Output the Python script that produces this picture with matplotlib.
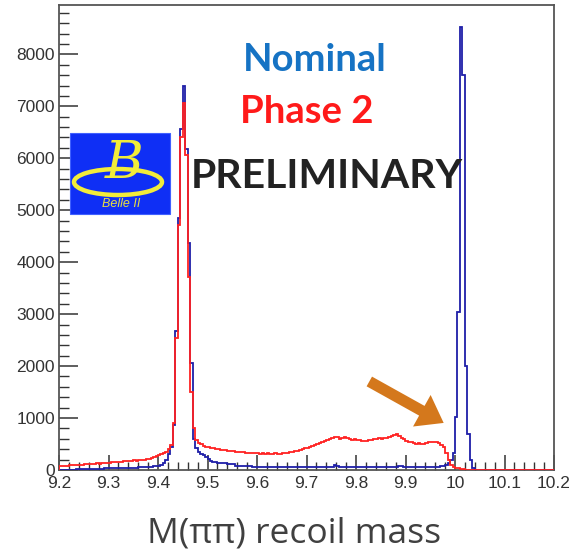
import matplotlib
matplotlib.use("Agg")
import matplotlib.pyplot as plt
from matplotlib.patches import Rectangle, Ellipse
import numpy as np

# histogram range, 200 bins of 5 MeV
mass_lo = 9.2
mass_hi = 10.2

# Nominal (blue), counts per bin, 10 bins per row
nominal_counts = [
    5, 5, 5, 5, 5, 5, 5, 25, 20, 20,
    20, 20, 25, 25, 20, 25, 25, 25, 30, 30,
    30, 35, 30, 35, 35, 40, 40, 35, 40, 40,
    45, 45, 50, 50, 55, 60, 60, 65, 70, 75,
    80, 100, 140, 200, 300, 450, 860, 2670, 4850, 6570,
    7400, 6170, 4370, 2060, 600, 420, 350, 300, 290, 250,
    220, 170, 160, 160, 140, 130, 130, 130, 125, 125,
    120, 80, 75, 75, 70, 70, 70, 70, 65, 65,
    65, 65, 65, 60, 65, 60, 60, 65, 60, 60,
    60, 60, 60, 55, 60, 60, 55, 60, 60, 60,
    60, 55, 60, 60, 60, 60, 55, 60, 60, 60,
    60, 90, 80, 60, 60, 60, 55, 60, 60, 60,
    60, 60, 55, 60, 60, 65, 60, 60, 60, 60,
    60, 60, 60, 60, 65, 60, 60, 85, 70, 60,
    60, 60, 60, 60, 60, 60, 60, 60, 60, 60,
    60, 60, 65, 60, 70, 80, 100, 130, 200, 320,
    1025, 3050, 8530, 7600, 2000, 700, 190, 30, 0, 0,
    0, 0, 0, 0, 0, 0, 0, 0, 0, 0,
    0, 0, 0, 0, 0, 0, 0, 0, 0, 0,
    0, 0, 0, 0, 0, 0, 0, 0, 0, 0,
]

# Phase 2 (red)
phase2_counts = [
    70, 75, 75, 80, 90, 95, 100, 100, 105, 100,
    110, 120, 120, 125, 125, 130, 125, 135, 130, 140,
    140, 150, 145, 160, 160, 155, 165, 170, 175, 180,
    185, 180, 190, 200, 200, 210, 220, 240, 250, 260,
    290, 310, 330, 350, 400, 480, 900, 2540, 4710, 6410,
    7070, 6060, 3720, 1500, 800, 580, 520, 500, 470, 450,
    440, 430, 420, 410, 400, 390, 380, 380, 370, 360,
    360, 350, 345, 340, 340, 330, 335, 325, 330, 320,
    320, 315, 320, 310, 320, 315, 310, 320, 310, 315,
    320, 330, 325, 340, 350, 360, 370, 380, 400, 420,
    430, 450, 470, 480, 500, 520, 540, 560, 580, 600,
    620, 640, 630, 600, 620, 640, 620, 600, 580, 590,
    570, 580, 560, 550, 560, 570, 580, 590, 600, 610,
    600, 610, 620, 640, 660, 680, 700, 660, 620, 590,
    550, 540, 530, 520, 510, 520, 510, 500, 520, 530,
    540, 530, 540, 520, 480, 440, 330, 200, 90, 60,
    40, 30, 20, 10, 0, 0, 0, 0, 0, 0,
    0, 0, 0, 0, 0, 0, 0, 0, 0, 0,
    0, 0, 0, 0, 0, 0, 0, 0, 0, 0,
    0, 0, 0, 0, 0, 0, 0, 0, 0, 0,
]

x_ticks = [9.2, 9.3, 9.4, 9.5, 9.6, 9.7, 9.8, 9.9, 10.0, 10.1, 10.2]
x_tick_labels = ["9.2", "9.3", "9.4", "9.5", "9.6", "9.7", "9.8", "9.9", "10", "10.1", "10.2"]
y_ticks = [0, 1000, 2000, 3000, 4000, 5000, 6000, 7000, 8000]
y_max = 8950

W, H = 569, 553
fig = plt.figure(figsize=(W / 100, H / 100), dpi=100)
ax = fig.add_axes([59 / W, 1 - 470 / H, (554 - 59) / W, (470 - 5) / H])

edges = np.linspace(mass_lo, mass_hi, len(nominal_counts) + 1)
ax.stairs(nominal_counts, edges, color="#1f1fa8", lw=1.3, zorder=3)
ax.stairs(phase2_counts, edges, color="#ff2222", lw=1.3, zorder=4)

ax.set_xlim(mass_lo, mass_hi)
ax.set_ylim(0, y_max)

#ROOT style axes: ticks pointing inwards, minor ticks, no ticks on top/right
ax.set_xticks(x_ticks)
ax.set_xticklabels(x_tick_labels)
ax.set_xticks(np.arange(9.2, 10.2001, 0.02), minor=True)
ax.set_yticks(y_ticks)
ax.set_yticks(np.arange(0, y_max, 200), minor=True)
ax.tick_params(axis="both", which="both", direction="in", colors="#333333", labelcolor="#333333")
ax.tick_params(axis="x", which="major", length=11, width=1.1, labelsize=12.5, pad=4)
ax.tick_params(axis="x", which="minor", length=6, width=1.0)
ax.tick_params(axis="y", which="major", length=14, width=1.1, labelsize=12.5, pad=3)
ax.tick_params(axis="y", which="minor", length=7, width=1.0)
for lab in ax.get_xticklabels() + ax.get_yticklabels():
    lab.set_family(["Liberation Sans", "DejaVu Sans"])
for sp in ax.spines.values():
    sp.set_color("#555555")
    sp.set_linewidth(1.3)

def fx(px):
    return px / W

def fy(py):
    return 1 - py / H

# texts
fig.text(fx(315), fy(60), "Nominal", color="#1673c4", fontsize=27.5, fontweight="bold",
         family=["Lato", "DejaVu Sans"], ha="center", va="center")
fig.text(fx(307), fy(112), "Phase 2", color="#ff1a1a", fontsize=27.5, fontweight="bold",
         family=["Lato", "DejaVu Sans"], ha="center", va="center")
fig.text(fx(327), fy(177), "PRELIMINARY", color="#222222", fontsize=29.5, fontweight="bold",
         family=["Lato", "DejaVu Sans"], ha="center", va="center")
fig.text(fx(294), fy(534), "M(\u03c0\u03c0) recoil mass", color="#404040", fontsize=25.5,
         family=["Open Sans", "DejaVu Sans"], ha="center", va="center")

# Belle II logo
fig.patches.append(Rectangle((fx(70), fy(214)), (170 - 70) / W, (214 - 133) / H,
                             transform=fig.transFigure, facecolor="#0f2ff5",
                             edgecolor="#4060ff", lw=0.8, zorder=5))
fig.patches.append(Ellipse((fx(118), fy(182)), 88 / W, 26 / H, transform=fig.transFigure,
                           facecolor="none", edgecolor="#f2ec3a", lw=3.2, zorder=6))
fig.text(fx(124), fy(164), "B", color="#f2ec3a", fontsize=38, style="italic",
         family="DejaVu Serif", ha="center", va="center", zorder=7)
fig.text(fx(121), fy(204), "Belle II", color="#e8e040", fontsize=9, style="italic",
         family=["Liberation Sans", "DejaVu Sans"], ha="center", va="center", zorder=7)

# orange arrow pointing at the Phase 2 drop near 10 GeV
ax.annotate("", xy=(9.982, 880), xytext=(9.822, 1730),
            arrowprops=dict(arrowstyle="simple,head_length=0.9,head_width=1.3,tail_width=0.4",
                            mutation_scale=20, color="#d4781c", lw=0))

fig.savefig("out.png", dpi=100)
